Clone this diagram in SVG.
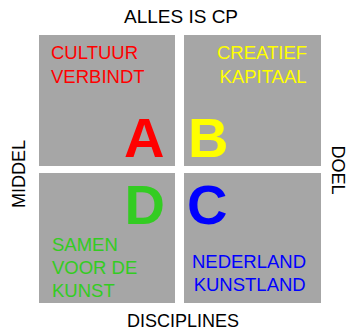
<svg xmlns="http://www.w3.org/2000/svg" width="348" height="331" viewBox="0 0 348 331">
<style>
.box{fill:#a6a6a6}
.t{font-family:"Liberation Sans",Arial,sans-serif;font-size:18.5px}
.lbl{font-family:"Liberation Sans",Arial,sans-serif;font-size:18px;fill:#000}
.big{font-family:"Liberation Sans",Arial,sans-serif;font-size:56px;font-weight:bold}
</style>
<rect width="348" height="331" fill="#fff"/>
<g id="axis-labels">
<text class="lbl" x="181" y="22.7" text-anchor="middle" style="font-size:19px">ALLES IS CP</text>
<text class="lbl" x="183" y="327.3" text-anchor="middle">DISCIPLINES</text>
<text class="lbl" transform="translate(25,174) rotate(-90)" text-anchor="middle">MIDDEL</text>
<text class="lbl" transform="translate(331.5,170) rotate(90)" text-anchor="middle">DOEL</text>
</g>
<g id="A">
<rect class="box" x="39" y="35" width="136" height="131"/>
<text class="t" fill="#ff0000" x="51" y="59.3">CULTUUR</text>
<text class="t" fill="#ff0000" x="51" y="83.3">VERBINDT</text>
<text class="big" fill="#ff0000" x="124" y="157">A</text>
</g>
<g id="B">
<rect class="box" x="184" y="35" width="137" height="131"/>
<text class="t" fill="#ffff00" x="262" y="59.3" text-anchor="middle">CREATIEF</text>
<text class="t" fill="#ffff00" x="263" y="83.3" text-anchor="middle">KAPITAAL</text>
<text class="big" fill="#ffff00" x="188" y="157">B</text>
</g>
<g id="D">
<rect class="box" x="39" y="173" width="136" height="130"/>
<text class="big" fill="#33cc22" x="124.5" y="224">D</text>
<text class="t" fill="#33cc22" x="52" y="251">SAMEN</text>
<text class="t" fill="#33cc22" x="52" y="274">VOOR DE</text>
<text class="t" fill="#33cc22" x="52" y="296.5">KUNST</text>
</g>
<g id="C">
<rect class="box" x="184" y="173" width="137" height="130"/>
<text class="big" fill="#0000ff" x="187" y="224">C</text>
<text class="t" fill="#0000ff" x="249" y="268.3" text-anchor="middle">NEDERLAND</text>
<text class="t" fill="#0000ff" x="249.7" y="291" text-anchor="middle">KUNSTLAND</text>
</g>
<g id="connectors"/>
</svg>
